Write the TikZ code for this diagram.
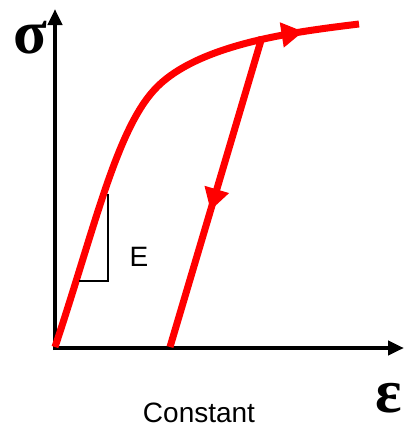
\documentclass[tikz,border=0pt]{standalone}
\usepackage{fontspec}
\setmainfont{Liberation Sans}
\newfontfamily\greekfont{Liberation Serif}
\usetikzlibrary{arrows.meta, calc, decorations.markings}
\definecolor{loadRed}{RGB}{255, 0, 0}

\begin{document}
\begin{tikzpicture}[x=1pt, y=-1pt,
    axis/.style={line width=4.5pt, -{Triangle[length=16pt, width=14pt]}},
    stressline/.style={loadRed, line width=7pt},
    midarrow/.style={postaction={decorate}, decoration={markings,
      mark=at position #1 with {\arrow{Triangle[length=22pt, width=24pt]}}}},
    greeklabel/.style={font=\greekfont\bfseries\fontsize{62}{62}\selectfont, inner sep=0pt},
    textlabel/.style={font=\fontsize{28}{30}\selectfont, inner sep=0pt}]
  \useasboundingbox (0,0) rectangle (405,429);
  % Axis
  \coordinate (origin) at (55,348);
  \coordinate (ytop) at (55,9);
  \coordinate (xend) at (404,348);
  \draw[axis] ($(origin)+(0,2)$) -- (ytop);
  \draw[axis] ($(origin)+(-2,0)$) -- (xend);
  \node[greeklabel] (sigma) at (30,38) {σ};
  \node[greeklabel] (eps) at (389,398) {ε};
  % Loading curve
  \coordinate (start) at (55,347);
  \coordinate (knee) at (157,87);
  \coordinate (curveend) at (359,24);
  \draw[stressline, midarrow=-56pt] (start) .. controls (95,227) and (117,127) .. (knee)
    .. controls (202,42) and (303,31) .. (curveend);
  % Unloading
  \coordinate (unloadtop) at (262,37);
  \coordinate (unloadend) at (170,347);
  \draw[stressline, midarrow=181pt] (unloadtop) -- (unloadend);
  % Slope triangle
  \coordinate (triA) at (79,281);
  \coordinate (triB) at (108,281);
  \coordinate (triC) at (108,194);
  \draw[line width=2pt] (triA) -- (triB) -- (triC);
  % Labels
  \node[textlabel] (modE) at (139,257) {E};
  \node[textlabel] (caption) at (199,413) {Constant};
\end{tikzpicture}
\end{document}
